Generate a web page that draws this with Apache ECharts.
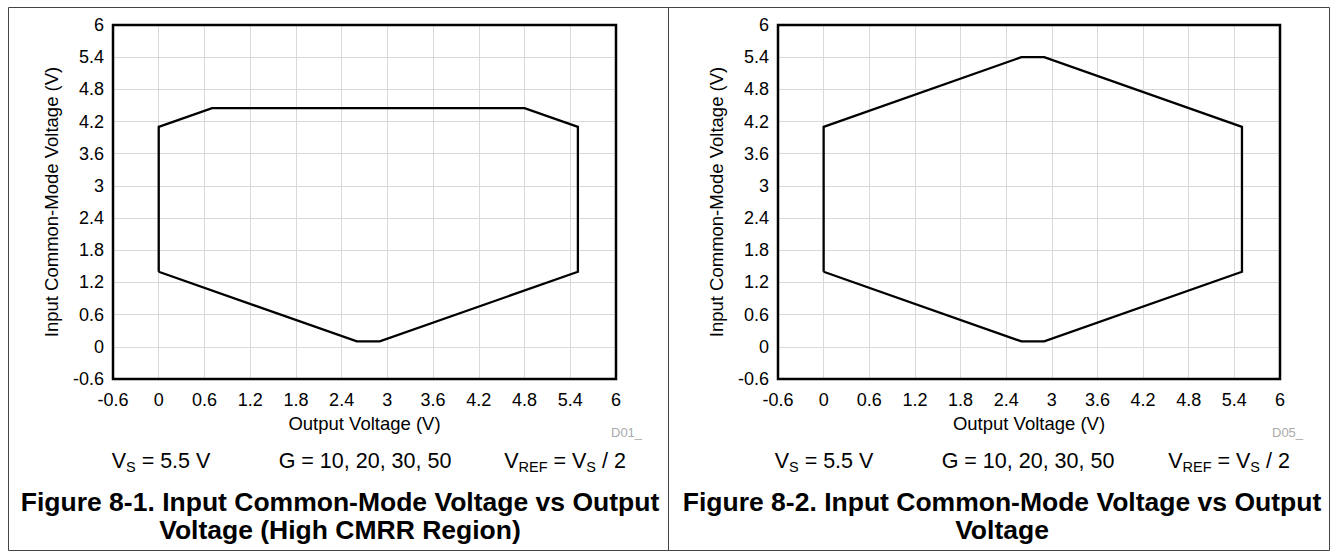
<!DOCTYPE html>
<html>
<head>
<meta charset="utf-8">
<script src="https://cdn.jsdelivr.net/npm/echarts@6/dist/echarts.min.js"></script>
<style>
html,body{margin:0;padding:0;background:#fff;}
#main{width:1338px;height:557px;}
</style>
</head>
<body>
<div id="main"></div>
<script>
// ---- data ----
const xTicks = [-0.6, 0, 0.6, 1.2, 1.8, 2.4, 3, 3.6, 4.2, 4.8, 5.4, 6];
const yTicks = [-0.6, 0, 0.6, 1.2, 1.8, 2.4, 3, 3.6, 4.2, 4.8, 5.4, 6];
// Figure 8-1 (High CMRR region) boundary, closed polygon
const fig1X = [0, 0, 0.7, 4.8, 5.5, 5.5, 2.9, 2.6, 0];
const fig1Y = [1.4, 4.1, 4.45, 4.45, 4.1, 1.4, 0.1, 0.1, 1.4];
// Figure 8-2 boundary, closed polygon
const fig2X = [0, 0, 2.6, 2.9, 5.5, 5.5, 2.9, 2.6, 0];
const fig2Y = [1.4, 4.1, 5.4, 5.4, 4.1, 1.4, 0.1, 0.1, 1.4];

const xName = 'Output Voltage (V)';
const yName = 'Input Common-Mode Voltage (V)';
const captions = [
  ['Figure 8-1. Input Common-Mode Voltage vs Output', 'Voltage (High CMRR Region)'],
  ['Figure 8-2. Input Common-Mode Voltage vs Output', 'Voltage']
];
const codes = ['D01_', 'D05_'];

// ---- styling ----
const FONT = "'Liberation Sans', Arial, Helvetica, sans-serif";
const chart = echarts.init(document.getElementById('main'), null, {renderer: 'svg'});

const grids = [
  {left: 113, top: 25, width: 503, height: 354},
  {left: 778, top: 25, width: 502, height: 354}
];
const fmt = v => String(+(+v).toFixed(1));

function xAxis(i) {
  return {
    type: 'value', gridIndex: i, min: xTicks[0], max: xTicks[xTicks.length - 1], interval: 0.6,
    axisLine: {show: false}, axisTick: {show: false},
    splitLine: {show: true, lineStyle: {color: '#d9d9d9', width: 1}},
    axisLabel: {color: '#000', fontSize: 18, fontFamily: FONT, margin: 12, formatter: fmt},
    name: xName, nameLocation: 'middle', nameGap: 33,
    nameTextStyle: {color: '#000', fontSize: 18.5, fontFamily: FONT}
  };
}
function yAxis(i) {
  return {
    type: 'value', gridIndex: i, min: yTicks[0], max: yTicks[yTicks.length - 1], interval: 0.6,
    axisLine: {show: false}, axisTick: {show: false},
    splitLine: {show: true, lineStyle: {color: '#d9d9d9', width: 1}},
    axisLabel: {color: '#000', fontSize: 18, fontFamily: FONT, margin: 9, formatter: fmt},
    name: yName, nameLocation: 'middle', nameGap: 52, nameRotate: 90,
    nameTextStyle: {color: '#000', fontSize: 18.5, fontFamily: FONT}
  };
}
function series(i, xs, ys) {
  return {
    type: 'line', xAxisIndex: i, yAxisIndex: i,
    data: xs.map((x, k) => [x, ys[k]]),
    symbol: 'none', clip: false, silent: true, z: 5,
    lineStyle: {color: '#000', width: 2.3, join: 'miter'}
  };
}

const richBase = {
  n: {fontSize: 21.5, fontFamily: FONT, color: '#000', lineHeight: 26, verticalAlign: 'middle'},
  s: {fontSize: 14.5, fontFamily: FONT, color: '#000', lineHeight: 13, verticalAlign: 'bottom'}
};
function cond(x, y, text) {
  return {type: 'text', x: x, y: y, z: 10,
    style: {text: text, rich: richBase, align: 'center', verticalAlign: 'middle', fill: '#000', font: '21.5px ' + FONT}};
}
function plain(x, y, text, size, bold, color, align) {
  return {type: 'text', x: x, y: y, z: 10,
    style: {text: text, fill: color || '#000', align: align || 'center', verticalAlign: 'middle',
      font: (bold ? 'bold ' : '') + size + 'px ' + FONT}};
}

const graphics = [
  // panel frames
  {type: 'rect', shape: {x: 8.5, y: 7.5, width: 660, height: 543}, style: {fill: 'none', stroke: '#444', lineWidth: 1}, z: 1},
  {type: 'rect', shape: {x: 668.5, y: 7.5, width: 661, height: 543}, style: {fill: 'none', stroke: '#444', lineWidth: 1}, z: 1},
  // plot frames (thick black)
  {type: 'rect', shape: {x: grids[0].left, y: grids[0].top, width: grids[0].width, height: grids[0].height}, style: {fill: 'none', stroke: '#000', lineWidth: 2.5}, z: 6},
  {type: 'rect', shape: {x: grids[1].left, y: grids[1].top, width: grids[1].width, height: grids[1].height}, style: {fill: 'none', stroke: '#000', lineWidth: 2.5}, z: 6},
  // drawing codes
  plain(611, 432, codes[0], 13, false, '#aaaaaa', 'left'),
  plain(1272, 432, codes[1], 13, false, '#aaaaaa', 'left'),
  // conditions
  cond(161, 461, '{n|V}{s|S}{n| = 5.5 V}'),
  cond(365, 461, '{n|G = 10, 20, 30, 50}'),
  cond(565, 461, '{n|V}{s|REF}{n| = V}{s|S}{n| / 2}'),
  cond(824, 461, '{n|V}{s|S}{n| = 5.5 V}'),
  cond(1028, 461, '{n|G = 10, 20, 30, 50}'),
  cond(1229, 461, '{n|V}{s|REF}{n| = V}{s|S}{n| / 2}'),
  // captions
  plain(340, 502, captions[0][0], 26.5, true),
  plain(340, 530, captions[0][1], 26.5, true),
  plain(1002, 502, captions[1][0], 26.5, true),
  plain(1002, 530, captions[1][1], 26.5, true)
];

chart.setOption({
  backgroundColor: '#fff',
  animation: false,
  grid: grids.map(g => Object.assign({containLabel: false, show: false}, g)),
  xAxis: [xAxis(0), xAxis(1)],
  yAxis: [yAxis(0), yAxis(1)],
  series: [series(0, fig1X, fig1Y), series(1, fig2X, fig2Y)],
  graphic: graphics
});
</script>
</body>
</html>
